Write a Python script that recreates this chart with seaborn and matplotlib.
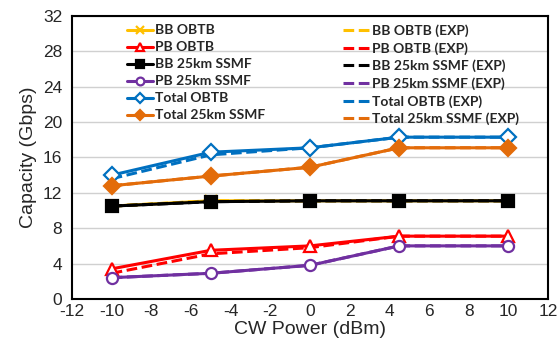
"""
Capacity vs CW power, OBTB and 25km SSMF.
"""
import numpy as np
import pandas as pd
import matplotlib
matplotlib.use('Agg')
import matplotlib.pyplot as plt
import seaborn as sns

cw_power = [-10, -5, 0, 4.5, 10]

bb_obtb = [10.5, 11.1, 11.1, 11.1, 11.1]
pb_obtb = [3.4, 5.5, 6.0, 7.1, 7.1]
bb_ssmf = [10.5, 11.0, 11.1, 11.1, 11.1]
pb_ssmf = [2.4, 2.9, 3.8, 6.0, 6.0]
total_obtb = [14.0, 16.6, 17.1, 18.3, 18.3]
total_ssmf = [12.8, 13.9, 14.9, 17.1, 17.1]

bb_obtb_exp = [10.5, 11.1, 11.1, 11.1, 11.1]
pb_obtb_exp = [2.9, 5.1, 5.8, 7.1, 7.1]
bb_ssmf_exp = [10.5, 11.0, 11.1, 11.1, 11.1]
pb_ssmf_exp = [2.4, 2.9, 3.8, 6.0, 6.0]
total_obtb_exp = [13.6, 16.3, 17.1, 18.3, 18.3]
total_ssmf_exp = [12.8, 13.9, 14.9, 17.1, 17.1]

names = ['BB OBTB', 'PB OBTB', 'BB 25km SSMF', 'PB 25km SSMF',
    'Total OBTB', 'Total 25km SSMF']
sim = [bb_obtb, pb_obtb, bb_ssmf, pb_ssmf, total_obtb, total_ssmf]
exp = [bb_obtb_exp, pb_obtb_exp, bb_ssmf_exp, pb_ssmf_exp,
    total_obtb_exp, total_ssmf_exp]

colors = ['#FFC000', '#FF0000', '#000000', '#7030A0', '#0070C0', '#E36C0A']
markers = ['x', '^', 's', 'o', 'D', 'D']
filled = [True, False, True, False, False, True]

rows = []
for name, s, e in zip(names, sim, exp):
    for x, a, b in zip(cw_power, s, e):
        rows.append({'series': name, 'power': x, 'sim': a, 'exp': b})
data = pd.DataFrame(rows)

sns.set_style('white')
plt.rcParams['font.family'] = ['Liberation Sans', 'DejaVu Sans']
plt.rcParams['axes.unicode_minus'] = False

fig = plt.figure(figsize=(5.58, 3.5), dpi=100)
ax = fig.add_axes([0.129, 0.146, 0.853, 0.808])

sim_handles = []
exp_handles = []
for i, name in enumerate(names):
    sub = data[data['series'] == name]
    sns.lineplot(data=sub, x='power', y='exp', ax=ax, color=colors[i],
        linestyle=(0, (3.5, 1.5)), linewidth=2.2, zorder=2 + i)
    exp_handles.append(ax.lines[-1])
    face = colors[i] if filled[i] else 'white'
    sns.lineplot(data=sub, x='power', y='sim', ax=ax, color=colors[i],
        linewidth=2.2, marker=markers[i], markersize=8 if markers[i] != 'x' else 9,
        markerfacecolor=face, markeredgecolor=colors[i], markeredgewidth=1.6,
        zorder=3 + i)
    sim_handles.append(ax.lines[-1])

ax.set_xlim(-12, 12)
ax.set_ylim(0, 32)
ax.set_xticks(np.arange(-12, 13, 2))
ax.set_yticks(np.arange(0, 33, 4))
ax.tick_params(axis='x', labelsize=12.5, length=0, pad=4)
ax.tick_params(axis='y', labelsize=12.5, length=0, pad=7)
ax.yaxis.grid(True, color='#d0d0d0', linewidth=1)
ax.set_axisbelow(True)
for sp in ax.spines.values():
    sp.set_color('black')
    sp.set_linewidth(1.5)

ax.set_xlabel('CW Power (dBm)', fontsize=14, labelpad=1)
ax.set_ylabel('Capacity (Gbps)', fontsize=14, labelpad=4)

leg_font = {'family': 'Lato', 'weight': 'bold', 'size': 10}
leg_kw = dict(loc='upper left', frameon=False, handlelength=1.9,
    handletextpad=0.15, labelspacing=0.36, markerscale=0.7,
    borderaxespad=0.2, prop=leg_font)
left = ax.legend(sim_handles, names, bbox_to_anchor=(0.098, 1.0), **leg_kw)
ax.add_artist(left)
ax.legend(exp_handles, ['{} (EXP)'.format(n) for n in names],
    bbox_to_anchor=(0.552, 1.0), **leg_kw)

fig.savefig('out.png', dpi=100)
